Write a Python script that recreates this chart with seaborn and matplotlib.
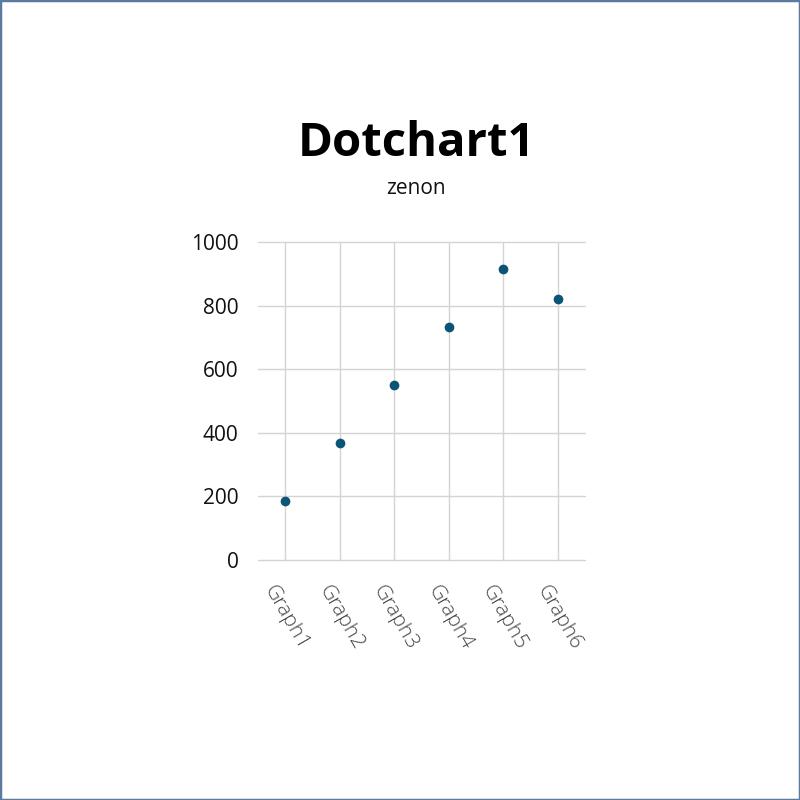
import matplotlib
matplotlib.use("Agg")
import matplotlib.pyplot as plt
from matplotlib.patches import Rectangle
from matplotlib.transforms import ScaledTranslation
import pandas as pd
import seaborn as sns

# values
GRAPHS = ["Graph1", "Graph2", "Graph3", "Graph4", "Graph5", "Graph6"]
VALUES = [186, 369, 550, 733, 914, 822]
Y_TICKS = [0, 200, 400, 600, 800, 1000]

DOT_COLOR = "#0b5475"
GRID_COLOR = "#d4d4d4"
BORDER_COLOR = "#5b7aa0"

df = pd.DataFrame({"graph": GRAPHS, "value": VALUES})

sns.set_theme(style="white")
plt.rcParams["font.family"] = ["Open Sans", "DejaVu Sans"]

fig = plt.figure(figsize=(8, 8), dpi=100)
ax = fig.add_axes([0.3225, 0.30, 0.4085, 0.3975])

sns.stripplot(
    data=df, x="graph", y="value",
    jitter=False, size=7, color=DOT_COLOR, linewidth=0,
    ax=ax, zorder=3,
)

ax.set_xlim(-0.5, len(GRAPHS) - 0.5)
ax.set_ylim(0, 1000)
ax.set_yticks(Y_TICKS)
ax.set_xlabel("")
ax.set_ylabel("")

ax.grid(True, color=GRID_COLOR, linewidth=1)
ax.set_axisbelow(True)
for line in ax.get_ygridlines() + ax.get_xgridlines():
    line.set_clip_on(False)
for s in ax.spines.values():
    s.set_visible(False)
ax.tick_params(axis="both", length=0)
ax.tick_params(axis="y", labelsize=15, labelcolor="#111111", pad=14)
ax.tick_params(axis="x", pad=16)

# nudge rotated category labels a little to the left, like the original
shift = ScaledTranslation(-0.08, 0, fig.dpi_scale_trans)
for lbl in ax.get_xticklabels():
    lbl.set_rotation(-60)
    lbl.set_rotation_mode("anchor")
    lbl.set_ha("left")
    lbl.set_va("top")
    lbl.set_fontsize(15)
    lbl.set_color("#444444")
    lbl.set_fontweight("light")
    lbl.set_transform(lbl.get_transform() + shift)

fig.text(0.52, 0.820, "Dotchart1", ha="center", va="center",
         fontsize=34, fontweight="bold", color="#000000")
fig.text(0.52, 0.765, "zenon", ha="center", va="center",
         fontsize=15, color="#111111")

fig.add_artist(Rectangle((0, 0), 1, 1, transform=fig.transFigure,
                         fill=False, edgecolor=BORDER_COLOR, linewidth=2.5))

fig.savefig("out.png", dpi=100, facecolor="white")
